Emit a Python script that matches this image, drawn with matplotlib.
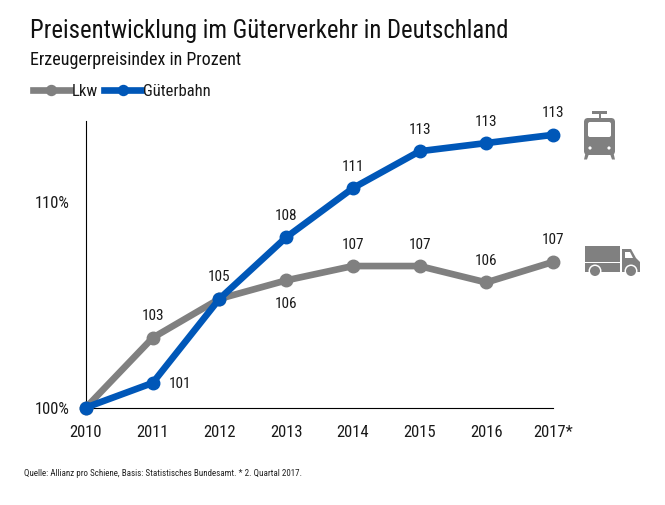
import matplotlib
matplotlib.use("Agg")
import matplotlib.pyplot as plt
from matplotlib.patches import Circle, FancyBboxPatch, Polygon, Rectangle

years = [2010, 2011, 2012, 2013, 2014, 2015, 2016, 2017]
year_labels = ["2010", "2011", "2012", "2013", "2014", "2015", "2016", "2017*"]
lkw = [100, 103.4, 105.3, 106.2, 106.9, 106.9, 106.1, 107.1]
bahn = [100, 101.2, 105.3, 108.3, 110.7, 112.5, 112.9, 113.3]
lkw_labels = ["", "103", "", "106", "107", "107", "106", "107"]
bahn_labels = ["", "101", "105", "108", "111", "113", "113", "113"]

GREY = "#808080"
BLUE = "#0057b8"
W, H = 665, 505

plt.rcParams["font.family"] = ["Roboto Condensed", "Roboto", "DejaVu Sans"]

fig = plt.figure(figsize=(W / 100, H / 100), dpi=100)
ax = fig.add_axes([86 / W, 1 - 407.5 / H, (553 - 86) / W, 287 / H])
ax.set_xlim(2010, 2017)
ax.set_ylim(100, 114)

ax.plot(years, lkw, color=GREY, lw=4.8, marker="o", ms=9, clip_on=False, zorder=3, label="Lkw")
ax.plot(years, bahn, color=BLUE, lw=4.8, marker="o", ms=9, clip_on=False, zorder=4, label="Güterbahn")

for s in ["top", "right"]:
    ax.spines[s].set_visible(False)
ax.set_xticks(years, year_labels)
ax.set_yticks([100, 110], ["100%", "110%"])
ax.tick_params(length=0, labelsize=12, colors="#1a1a1a")
ax.tick_params(axis="x", pad=12.5)
ax.tick_params(axis="y", pad=12)

# Werte ueber/unter den Punkten
for x, y, t in zip(years, bahn, bahn_labels):
    if not t:
        continue
    off = (19.5, -1) if t == "101" else (0, 15.5)
    ax.annotate(t, (x, y), xytext=off, textcoords="offset points", ha="center", va="center", fontsize=11, color="#1a1a1a", zorder=5)
for x, y, t in zip(years, lkw, lkw_labels):
    if not t:
        continue
    off = (0, -17) if t == "106" and x == 2013 else (0, 15.5)
    ax.annotate(t, (x, y), xytext=off, textcoords="offset points", ha="center", va="center", fontsize=11, color="#1a1a1a", zorder=5)

leg = ax.legend(loc="lower left", bbox_to_anchor=(33 / W, 1 - 99 / H), bbox_transform=fig.transFigure,
                ncols=2, frameon=False, fontsize=12, handlelength=2.2, handletextpad=0.1,
                columnspacing=0.4, borderpad=0, borderaxespad=0, numpoints=1, markerscale=0.8)
for t in leg.get_texts():
    t.set_color("#1a1a1a")

fig.text(30 / W, 1 - 31 / H, "Preisentwicklung im Güterverkehr in Deutschland", fontsize=17.8, va="center", color="#111111")
fig.text(30 / W, 1 - 60 / H, "Erzeugerpreisindex in Prozent", fontsize=13, va="center", color="#111111")
fig.text(24 / W, 1 - 474 / H, "Quelle: Allianz pro Schiene, Basis: Statistisches Bundesamt. * 2. Quartal 2017.", fontsize=6.5, va="center", color="#222222")

# Icons in Pixelkoordinaten
ov = fig.add_axes([0, 0, 1, 1])
ov.set_xlim(0, W)
ov.set_ylim(H, 0)
ov.axis("off")
ov.patch.set_alpha(0)

# Zug
ov.add_patch(Rectangle((592, 111), 15, 2.5, color=GREY, lw=0))
ov.add_patch(Rectangle((598.5, 113), 2.5, 6, color=GREY, lw=0))
ov.add_patch(Polygon([(586, 151), (590, 151), (587, 159.5), (584, 159.5)], color=GREY, lw=0))
ov.add_patch(Polygon([(609, 151), (613, 151), (615, 159.5), (612, 159.5)], color=GREY, lw=0))
ov.add_patch(FancyBboxPatch((587, 121), 25, 31, boxstyle="round,pad=3,rounding_size=4", color=GREY, lw=0))
ov.add_patch(FancyBboxPatch((589, 123), 21, 13, boxstyle="round,pad=1,rounding_size=2", color="white", lw=0))
ov.add_patch(Circle((590, 148), 1.6, color="white", lw=0))
ov.add_patch(Circle((609, 148), 1.6, color="white", lw=0))

# Lkw
ov.add_patch(Rectangle((585, 246), 35, 15.5, color=GREY, lw=0))
ov.add_patch(Rectangle((585, 263), 35, 9, color=GREY, lw=0))
ov.add_patch(Polygon([(622, 249), (631, 249), (636, 258), (640, 262), (640, 272), (622, 272)], color=GREY, lw=0))
ov.add_patch(Polygon([(625, 252), (630, 252), (633, 258), (625, 258)], color="white", lw=0))
for cx in [595, 631]:
    ov.add_patch(Circle((cx, 271), 6.5, color="white", lw=0))
    ov.add_patch(Circle((cx, 271), 5, color=GREY, lw=0))

fig.savefig("out.png", dpi=100)
